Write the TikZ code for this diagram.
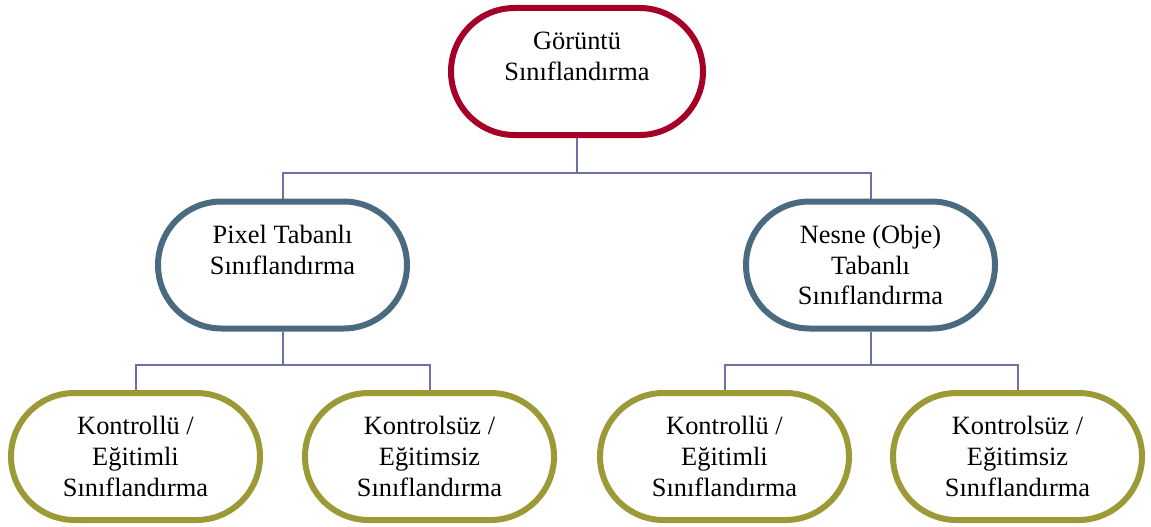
\documentclass[tikz,border=0pt]{standalone}
\usepackage{fontspec}
\setmainfont{Liberation Serif}
\usetikzlibrary{backgrounds,shapes.misc}
\definecolor{topred}{HTML}{A50026}
\definecolor{midblue}{HTML}{4A6A7F}
\definecolor{botolive}{HTML}{9C9A36}
\definecolor{connc}{HTML}{7070A8}
\begin{document}
\begin{tikzpicture}[x=1pt,y=-1pt,
  box/.style={draw, fill=white, line width=6pt, rounded rectangle,
    minimum width=250pt, minimum height=127pt, inner sep=0pt, align=center,
    font=\fontsize{26.4pt}{30.7pt}\selectfont},
  topbox/.style={box, draw=topred, minimum width=252pt},
  midbox/.style={box, draw=midblue, minimum width=249pt},
  botbox/.style={box, draw=botolive, minimum width=249pt},
  conn/.style={draw=connc, line width=2pt}]
\useasboundingbox (0,0) rectangle (1151,527);
\node[topbox] (top) at (577,71.5) {Görüntü\\Sınıflandırma\\\mbox{}};
\node[midbox] (ml) at (282.5,265) {Pixel Tabanlı\\Sınıflandırma\\\mbox{}};
\node[midbox] (mr) at (870.5,265) {Nesne (Obje)\\Tabanlı\\Sınıflandırma};
\node[botbox] (b1) at (135.5,456.5) {Kontrollü /\\Eğitimli\\Sınıflandırma};
\node[botbox] (b2) at (429.5,456.5) {Kontrolsüz /\\Eğitimsiz\\Sınıflandırma};
\node[botbox] (b3) at (724.5,456.5) {Kontrollü /\\Eğitimli\\Sınıflandırma};
\node[botbox] (b4) at (1017.5,456.5) {Kontrolsüz /\\Eğitimsiz\\Sınıflandırma};
\begin{pgfonlayer}{background}
\draw[conn] (top.south) -- ++(0,35) coordinate (j0) -| (ml.north);
\draw[conn] (j0) -| (mr.north);
\draw[conn] (ml.south) -- ++(0,33) coordinate (j1) -| (b1.north);
\draw[conn] (j1) -| (b2.north);
\draw[conn] (mr.south) -- ++(0,33) coordinate (j2) -| (b3.north);
\draw[conn] (j2) -| (b4.north);
\end{pgfonlayer}
\end{tikzpicture}
\end{document}
